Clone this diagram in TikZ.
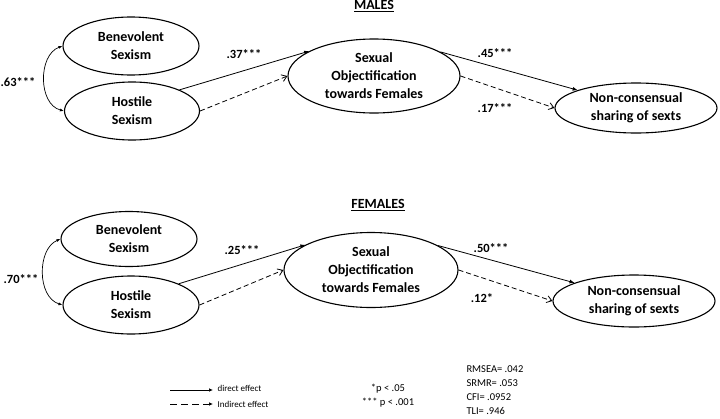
\documentclass[tikz,border=0pt]{standalone}
\usepackage{fontspec}
\setmainfont{Carlito}
\usetikzlibrary{shapes.geometric,arrows.meta}
\tikzset{
  lat/.style={ellipse, draw, line width=1.1pt, inner sep=0pt, align=center,
    font=\fontsize{14}{18}\selectfont\bfseries},
  coef/.style={font=\fontsize{12.5}{14}\selectfont\bfseries},
  ttl/.style={font=\fontsize{14}{16}\selectfont\bfseries},
  dir/.style={line width=0.8pt, -{Latex[length=5pt,width=4pt]}},
  ind/.style={line width=0.8pt, dashed, dash pattern=on 5pt off 3pt, -{Straight Barb[length=5pt,width=7pt]}},
  cov/.style={line width=0.7pt, {Latex[length=4pt,width=3pt]}-{Latex[length=4pt,width=3pt]}},
  legtext/.style={font=\fontsize{9}{11}\selectfont, anchor=west},
  smalltext/.style={font=\fontsize{10.5}{14}\selectfont},
}
\begin{document}
\begin{tikzpicture}[x=1pt,y=-1pt]
\useasboundingbox (0,0) rectangle (720,418);
% ---------- MALES ----------
\node[ttl] (tm) at (374,6) {\underline{MALES}};
\node[lat, minimum width=136pt, minimum height=58pt] (bm) at (131,46) {Benevolent\\Sexism};
\node[lat, minimum width=135pt, minimum height=58pt] (hm) at (132,111) {Hostile\\Sexism};
\node[lat, minimum width=172pt, minimum height=74pt] (om) at (374,76) {Sexual\\Objectification\\towards Females};
\node[lat, minimum width=162pt, minimum height=50pt] (nm) at (636,108) {Non-consensual\\sharing of sexts};
\draw[dir] (hm.24) -- (om.159);
\draw[ind] (hm.east) -- (om.west);
\draw[dir] (om.20) -- (nm.163);
\draw[ind] (om.east) -- (nm.west);
\draw[cov] (bm.west) .. controls (38,55) and (38,104) .. (hm.west);
\node[coef] (cm1) at (18,82) {.63***};
\node[coef] (cm2) at (244,54) {.37***};
\node[coef] (cm3) at (495,53) {.45***};
\node[coef] (cm4) at (495,108) {.17***};
% ---------- FEMALES ----------
\node[ttl] (tf) at (378,205) {\underline{FEMALES}};
\node[lat, minimum width=136pt, minimum height=55pt] (bf) at (129,239) {Benevolent\\Sexism};
\node[lat, minimum width=136pt, minimum height=58pt] (hf) at (131,305) {Hostile\\Sexism};
\node[lat, minimum width=174pt, minimum height=75pt] (of) at (371,270) {Sexual\\Objectification\\towards Females};
\node[lat, minimum width=162pt, minimum height=52pt] (nf) at (634,301) {Non-consensual\\sharing of sexts};
\draw[dir] (hf.24) -- (of.159);
\draw[ind] (hf.east) -- (of.west);
\draw[dir] (of.20) -- (nf.163);
\draw[ind] (of.east) -- (nf.west);
\draw[cov] (bf.west) .. controls (37,249) and (37,297) .. (hf.west);
\node[coef] (cf1) at (21,279) {.70***};
\node[coef] (cf2) at (242,250) {.25***};
\node[coef] (cf3) at (491,248) {.50***};
\node[coef] (cf4) at (482,298) {.12*};
% ---------- Legend ----------
\coordinate (l1a) at (170,390);
\coordinate (l1b) at (213,390);
\coordinate (l2a) at (170,404);
\coordinate (l2b) at (213,404);
\draw[line width=0.7pt, -{Latex[length=4pt,width=3.5pt]}] (l1a) -- (l1b);
\draw[line width=0.7pt, dash pattern=on 7pt off 4pt, -{Latex[length=4pt,width=3.5pt]}] (l2a) -- (l2b);
\node[legtext] (lt1) at (214,388) {direct effect};
\node[legtext] (lt2) at (214,404) {Indirect effect};
\node[smalltext, align=center] (pv) at (388,396) {*p < .05\\*** p < .001};
\node[smalltext, align=left, anchor=west] (fit) at (463,390) {RMSEA= .042\\SRMR= .053\\CFI= .0952\\TLI= .946};
\end{tikzpicture}
\end{document}
